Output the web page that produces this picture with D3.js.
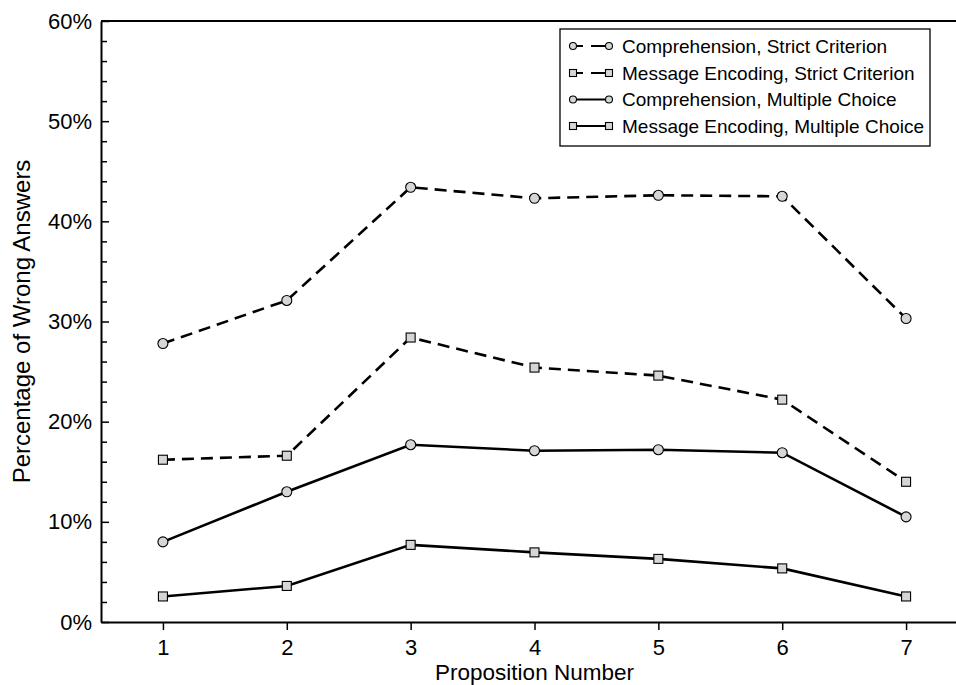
<!DOCTYPE html>
<html>
<head>
<meta charset="utf-8">
<script src="https://cdn.jsdelivr.net/npm/d3@7"></script>
<style>
  html, body { margin: 0; padding: 0; background: #fff; }
  svg { display: block; font-family: "Liberation Sans", Arial, Helvetica, sans-serif; }
</style>
</head>
<body>
<svg id="chart" width="956" height="685"></svg>
<script>
// Proposition numbers on the x axis
const propositions = [1, 2, 3, 4, 5, 6, 7];

// Percentage of wrong answers per proposition
const comprehensionStrict   = [27.8, 32.1, 43.4, 42.3, 42.6, 42.5, 30.3];
const encodingStrict        = [16.2, 16.6, 28.4, 25.4, 24.6, 22.2, 14.0];
const comprehensionMultiple = [8.0, 13.0, 17.7, 17.1, 17.2, 16.9, 10.5];
const encodingMultiple      = [2.55, 3.6, 7.7, 6.95, 6.3, 5.35, 2.55];

const seriesNames = [
  "Comprehension, Strict Criterion",
  "Message Encoding, Strict Criterion",
  "Comprehension, Multiple Choice",
  "Message Encoding, Multiple Choice"
];

const yMajorTicks = [0, 10, 20, 30, 40, 50, 60];
const yMinorTicks = d3.range(0, 61, 2).filter(v => v % 10 !== 0);

const series = [
  { name: seriesNames[0], values: comprehensionStrict,   symbol: "circle", dashed: true },
  { name: seriesNames[1], values: encodingStrict,        symbol: "square", dashed: true },
  { name: seriesNames[2], values: comprehensionMultiple, symbol: "circle", dashed: false },
  { name: seriesNames[3], values: encodingMultiple,      symbol: "square", dashed: false }
];

const svg = d3.select("#chart");

const x = d3.scaleLinear().domain([0.5, 7.5]).range([101, 968]);
const y = d3.scaleLinear().domain([0, 60]).range([622, 21]);

const markerFill = "#d6d6d6";

// Frame top edge
svg.append("line")
  .attr("x1", x(0.5)).attr("x2", x(7.5))
  .attr("y1", y(60)).attr("y2", y(60))
  .attr("stroke", "#000").attr("stroke-width", 2);

// Minor y ticks (inward)
svg.append("g")
  .attr("transform", `translate(${x(0.5)},0)`)
  .call(d3.axisLeft(y).tickValues(yMinorTicks).tickSize(-6).tickFormat(""))
  .call(g => g.select(".domain").remove())
  .call(g => g.selectAll("line").attr("stroke-width", 1.5));

// Major y ticks and labels
svg.append("g")
  .attr("transform", `translate(${x(0.5)},0)`)
  .call(d3.axisLeft(y).tickValues(yMajorTicks).tickSize(-8).tickSizeOuter(0)
        .tickPadding(9).tickFormat(d => d + "%"))
  .call(g => g.select(".domain").attr("stroke-width", 2))
  .call(g => g.selectAll("line").attr("stroke-width", 1.5))
  .call(g => g.selectAll("text").attr("font-size", 22).attr("fill", "#000")
        .attr("font-family", "'Liberation Sans', Arial, sans-serif"));

// X axis (ticks outward)
svg.append("g")
  .attr("transform", `translate(0,${y(0)})`)
  .call(d3.axisBottom(x).tickValues(propositions).tickSize(8).tickSizeOuter(0)
        .tickPadding(9).tickFormat(d3.format("d")))
  .call(g => g.select(".domain").attr("stroke-width", 2))
  .call(g => g.selectAll("line").attr("stroke-width", 1.5))
  .call(g => g.selectAll("text").attr("font-size", 22).attr("fill", "#000")
        .attr("font-family", "'Liberation Sans', Arial, sans-serif"));

// Axis titles
svg.append("text")
  .attr("x", x(4)).attr("y", 680)
  .attr("text-anchor", "middle")
  .attr("font-size", 22.5)
  .text("Proposition Number");

svg.append("text")
  .attr("transform", `translate(30,${(y(0) + y(60)) / 2}) rotate(-90)`)
  .attr("text-anchor", "middle")
  .attr("font-size", 24)
  .text("Percentage of Wrong Answers");

// Series lines
const line = d3.line()
  .x((d, i) => x(propositions[i]))
  .y(d => y(d));

svg.append("g").selectAll("path")
  .data(series)
  .join("path")
  .attr("d", s => line(s.values))
  .attr("fill", "none")
  .attr("stroke", "#000")
  .attr("stroke-width", 2.6)
  .attr("stroke-dasharray", s => s.dashed ? "12,7" : null);

// Markers
function drawMarker(g, symbol, cx, cy, size) {
  if (symbol === "circle") {
    g.append("circle")
      .attr("cx", cx).attr("cy", cy).attr("r", size / 2)
      .attr("fill", markerFill).attr("stroke", "#000").attr("stroke-width", 1.1);
  } else {
    g.append("rect")
      .attr("x", cx - size / 2).attr("y", cy - size / 2)
      .attr("width", size).attr("height", size)
      .attr("fill", markerFill).attr("stroke", "#000").attr("stroke-width", 1.1);
  }
}

const markerLayer = svg.append("g");
series.forEach(s => {
  s.values.forEach((v, i) => {
    drawMarker(markerLayer, s.symbol, x(propositions[i]), y(v), s.symbol === "circle" ? 10 : 9);
  });
});

// Legend
const legend = svg.append("g");
legend.append("rect")
  .attr("x", 560).attr("y", 29)
  .attr("width", 370).attr("height", 117)
  .attr("fill", "#fff").attr("stroke", "#000").attr("stroke-width", 1.3);

const rowY = [46, 73, 99.5, 126];
series.forEach((s, i) => {
  const cy = rowY[i];
  legend.append("line")
    .attr("x1", 573).attr("x2", 609)
    .attr("y1", cy).attr("y2", cy)
    .attr("stroke", "#000").attr("stroke-width", 2)
    .attr("stroke-dasharray", s.dashed ? "10,8,18" : null);
  drawMarker(legend, s.symbol, 573, cy, 7);
  drawMarker(legend, s.symbol, 609, cy, 7);
  legend.append("text")
    .attr("x", 622).attr("y", cy)
    .attr("dy", "0.35em")
    .attr("font-size", 19)
    .text(s.name);
});
</script>
</body>
</html>
